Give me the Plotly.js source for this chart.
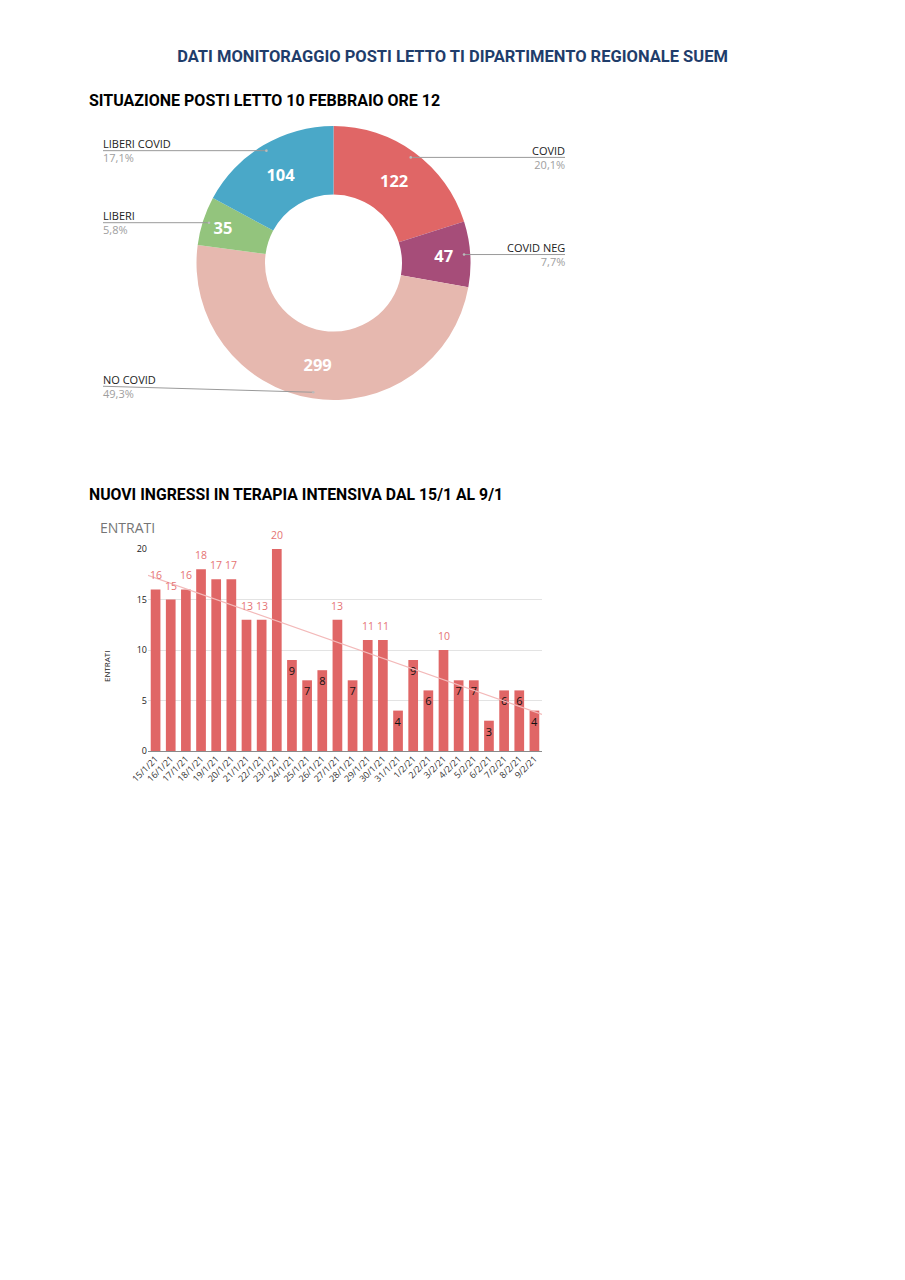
<!DOCTYPE html>
<html>
<head>
<meta charset="utf-8">
<script src="https://cdn.plot.ly/plotly-3.0.1.min.js"></script>
<style>html,body{margin:0;padding:0;background:#fff;}#chart{width:905px;height:1280px;}</style>
</head>
<body>
<div id="chart"></div>
<script>
// ---- DATA ----
const mainTitle = 'DATI MONITORAGGIO POSTI LETTO TI DIPARTIMENTO REGIONALE SUEM';
const pieTitle = 'SITUAZIONE POSTI LETTO 10 FEBBRAIO ORE 12';
const barSectionTitle = 'NUOVI INGRESSI IN TERAPIA INTENSIVA DAL 15/1 AL 9/1';
const barChartTitle = 'ENTRATI';
const pieLabels = ['COVID', 'COVID NEG', 'NO COVID', 'LIBERI', 'LIBERI COVID'];
const pieValues = [122, 47, 299, 35, 104];
const pieColors = ['#e06666', '#a64d79', '#e6b8af', '#93c47d', '#4aa8c8'];
const dates = ['15/1/21','16/1/21','17/1/21','18/1/21','19/1/21','20/1/21','21/1/21','22/1/21','23/1/21','24/1/21','25/1/21','26/1/21','27/1/21','28/1/21','29/1/21','30/1/21','31/1/21','1/2/21','2/2/21','3/2/21','4/2/21','5/2/21','6/2/21','7/2/21','8/2/21','9/2/21'];
const entrati = [16,15,16,18,17,17,13,13,20,9,7,8,13,7,11,11,4,9,6,10,7,7,3,6,6,4];

// ---- HELPERS ----
const W = 905, H = 1280;
const px = x => x / W;
const py = y => 1 - y / H;
const FONT = 'Open Sans, sans-serif';
const TFONT = 'Roboto, sans-serif';

// ---- PIE ----
const pcx = 333.5, pcy = 263, pR = 137;
const total = pieValues.reduce((a, b) => a + b, 0);
const shapes = [];
const annotations = [];
let cum = 0;
pieValues.forEach((v, i) => {
  const mid = (cum + v / 2) / total * 2 * Math.PI;
  cum += v;
  const dx = pcx + 0.955 * pR * Math.sin(mid);
  const dy = pcy - 0.955 * pR * Math.cos(mid);
  const right = Math.sin(mid) > 0;
  const lx = right ? 565 : 103;
  // labels near the bottom of the ring sit slightly higher than their anchor dot
  const ly = dy > pcy + 0.9 * pR ? dy - 6 : dy;
  shapes.push({type: 'line', xref: 'paper', yref: 'paper', x0: px(dx), y0: py(dy), x1: px(lx), y1: py(ly),
    line: {color: '#9a9a9a', width: 1}});
  shapes.push({type: 'circle', xref: 'paper', yref: 'paper', x0: px(dx - 1.3), x1: px(dx + 1.3), y0: py(dy - 1.3), y1: py(dy + 1.3),
    fillcolor: '#bbbbbb', line: {width: 0}});
  const pct = (v / total * 100).toFixed(1).replace('.', ',') + '%';
  annotations.push({xref: 'paper', yref: 'paper', x: px(right ? lx + 2 : lx - 2), y: py(ly), xanchor: right ? 'right' : 'left', yanchor: 'middle',
    align: right ? 'right' : 'left', showarrow: false,
    text: pieLabels[i] + '<br><span style="color:#9e9e9e">' + pct + '</span>',
    font: {family: FONT, size: 11, color: '#222'}});
});

// ---- TREND (least squares on data) ----
const n = entrati.length;
const xs = entrati.map((_, i) => i);
const mx = xs.reduce((a, b) => a + b, 0) / n;
const my = entrati.reduce((a, b) => a + b, 0) / n;
let sxy = 0, sxx = 0;
xs.forEach((x, i) => { sxy += (x - mx) * (entrati[i] - my); sxx += (x - mx) * (x - mx); });
const slope = sxy / sxx, icpt = my - slope * mx;
const trendX = [-0.5, n - 0.5];
const trendY = trendX.map(x => icpt + slope * x);

// outside labels (values >= 10) as annotations above the bars
entrati.forEach((v, i) => {
  if (v >= 10) {
    annotations.push({xref: 'x', yref: 'y', x: i, y: v, xanchor: 'center', yanchor: 'bottom', yshift: 5, showarrow: false,
      text: String(v), font: {family: FONT, size: 10.5, color: '#e57373'}});
  }
});

const traces = [
  {type: 'pie', labels: pieLabels, values: pieValues, sort: false, direction: 'clockwise', rotation: 0,
    hole: 0.5, marker: {colors: pieColors, line: {width: 0}},
    domain: {x: [px(pcx - pR), px(pcx + pR)], y: [py(pcy + pR), py(pcy - pR)]},
    textinfo: 'value', textposition: 'inside', insidetextorientation: 'horizontal',
    textfont: {family: FONT, size: 16.5, color: '#ffffff', weight: 'bold'}, showlegend: false, hoverinfo: 'label+value+percent'},
  {type: 'bar', x: xs, y: entrati, xaxis: 'x', yaxis: 'y', marker: {color: '#e06666'},
    text: entrati.map(v => v < 10 ? String(v) : ''),
    textposition: 'inside',
    insidetextanchor: 'end', constraintext: 'none', cliponaxis: false,
    textfont: {family: FONT, size: 11, color: '#111'},
    showlegend: false},
  {type: 'scatter', mode: 'lines', x: trendX, y: trendY, xaxis: 'x', yaxis: 'y',
    line: {color: '#f3b9b9', width: 1.2}, showlegend: false, hoverinfo: 'skip'}
];

annotations.push(
  {xref: 'paper', yref: 'paper', x: px(87), y: py(101), xanchor: 'left', yanchor: 'middle', showarrow: false,
    text: '<b>' + pieTitle + '</b>', font: {family: TFONT, size: 16, color: '#000'}},
  {xref: 'paper', yref: 'paper', x: px(87), y: py(494), xanchor: 'left', yanchor: 'middle', showarrow: false,
    text: '<b>' + barSectionTitle + '</b>', font: {family: TFONT, size: 15.8, color: '#000'}},
  {xref: 'paper', yref: 'paper', x: px(98), y: py(527), xanchor: 'left', yanchor: 'middle', showarrow: false,
    text: barChartTitle, font: {family: FONT, size: 14, color: '#757575'}},
  {xref: 'paper', yref: 'paper', x: px(106), y: py(666), xanchor: 'center', yanchor: 'middle', showarrow: false, textangle: -90,
    text: 'ENTRATI', font: {family: FONT, size: 8, color: '#222'}}
);

const layout = {
  width: W, height: H, margin: {l: 0, r: 0, t: 0, b: 0}, paper_bgcolor: '#fff', plot_bgcolor: 'rgba(0,0,0,0)',
  title: {text: '<b>' + mainTitle + '</b>', x: 0.5, xanchor: 'center', xref: 'container', y: py(56), yref: 'container', yanchor: 'middle',
    font: {family: TFONT, size: 16.5, color: '#1f3d6b'}},
  bargap: 0.36,
  xaxis: {domain: [px(148), px(542)], range: [-0.5, n - 0.5], tickvals: xs, ticktext: dates, tickangle: -45,
    tickfont: {family: FONT, size: 9, color: '#333'}, showgrid: false, zeroline: false, showline: false, ticks: '', fixedrange: true},
  yaxis: {domain: [py(751), py(549)], range: [0, 20], dtick: 5, gridcolor: '#e3e3e3', zeroline: true, zerolinecolor: '#8a8a8a',
    zerolinewidth: 1, tickfont: {family: FONT, size: 9, color: '#222'}, ticks: '', fixedrange: true},
  shapes: shapes, annotations: annotations, showlegend: false
};

Plotly.newPlot('chart', traces, layout, {displayModeBar: false, staticPlot: true});
</script>
</body>
</html>
